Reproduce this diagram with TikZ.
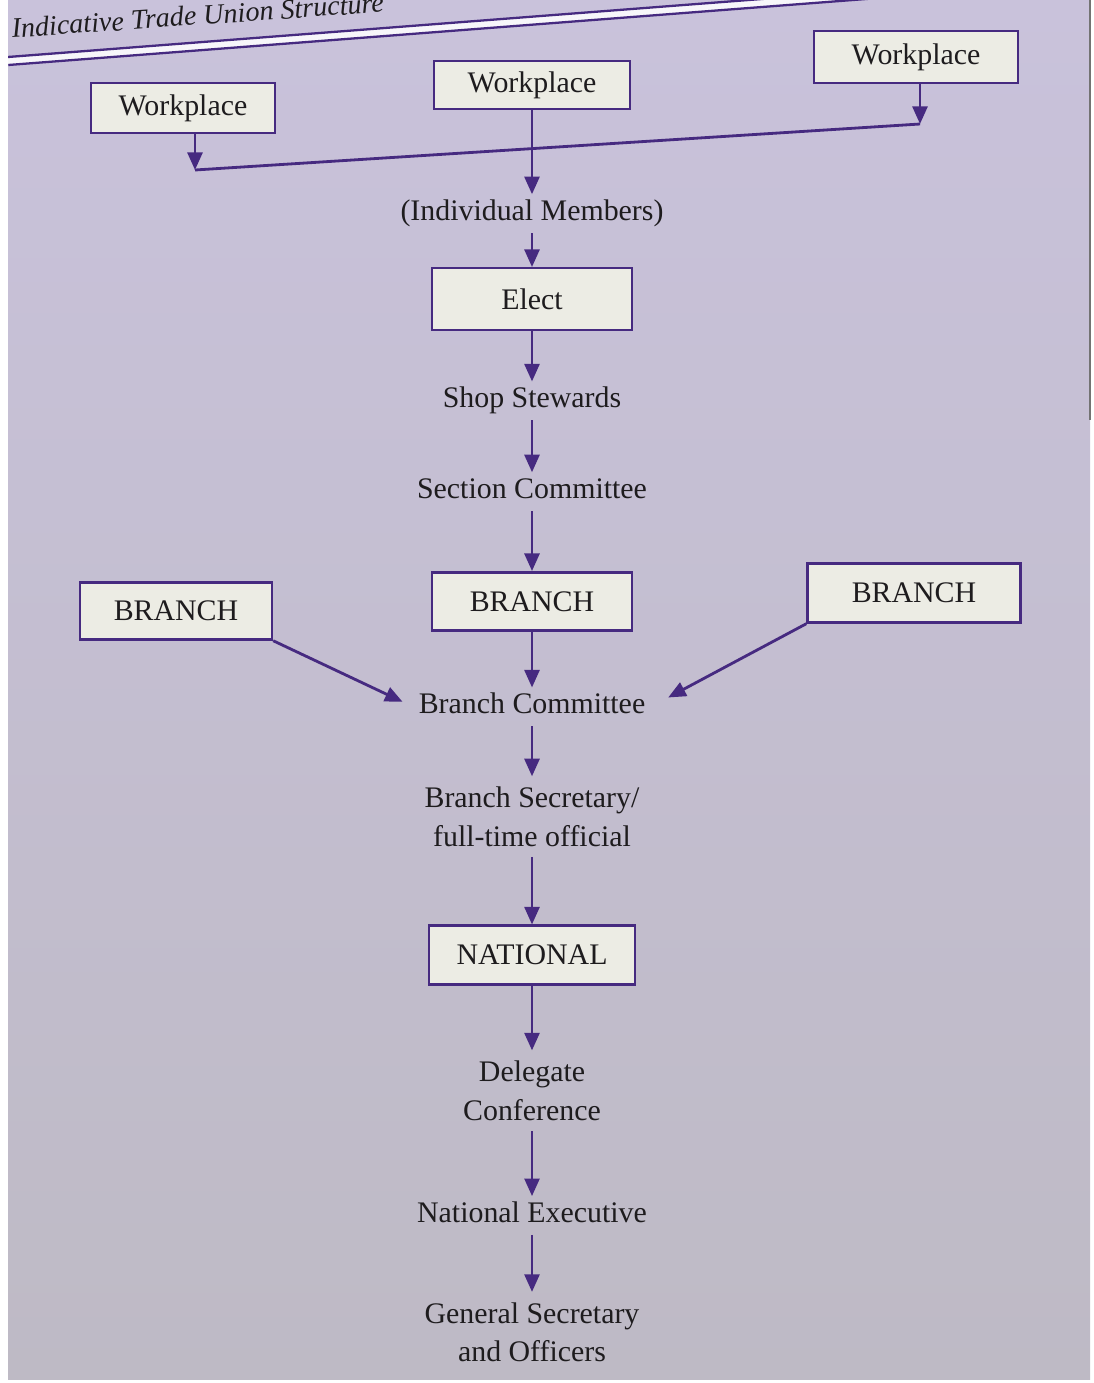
\documentclass[tikz,border=0pt]{standalone}
\usepackage{fontspec}
\setmainfont{Liberation Serif}
\usetikzlibrary{arrows.meta, positioning}
\definecolor{unionpurple}{RGB}{70,42,128}
\definecolor{boxfill}{RGB}{236,236,228}
\definecolor{pagetop}{RGB}{201,194,219}
\definecolor{pagebottom}{RGB}{190,186,197}
\definecolor{inktext}{RGB}{30,28,30}
\tikzstyle{unit} = [
    rectangle,
    text centered,
    draw=unionpurple,
    fill=boxfill,
    line width=1.4pt,
    text=inktext,
    font=\fontsize{17}{22}\selectfont
]
\tikzstyle{level} = [
    text centered,
    inner sep=0.1cm,
    text height=12pt,
    text depth=4pt,
    text=inktext,
    font=\fontsize{17}{22}\selectfont
]
\tikzstyle{twolevel} = [
    align=center,
    inner sep=0.1cm,
    minimum height=1.6cm,
    text=inktext,
    font=\fontsize{17}{22}\selectfont
]
\tikzstyle{arrow} = [
    line width=1.6pt,
    draw=unionpurple,
    -{Triangle[length=10pt,width=8.5pt]}
]
\tikzstyle{link} = [
    line width=1.6pt,
    draw=unionpurple
]

\begin{document}
\begin{tikzpicture}[x=0.02cm, y=-0.02cm]

% page
\useasboundingbox (0,0) rectangle (1094,1383);
\fill[white] (0,0) rectangle (1094,1383);
\shade[top color=pagetop, bottom color=pagebottom] (8,0) rectangle (1090,1379);
\draw[black!55, line width=1pt] (1090,0) -- (1090,420);

% heading and rule
\begin{scope}
\clip (8,0) rectangle (1090,1379);
\node (title) [anchor=base west, rotate=4, inner sep=0, text=inktext,
    font=\itshape\fontsize{16}{18}\selectfont] at (12,38) {Indicative Trade Union Structure};
\begin{scope}[rotate around={4.4:(8,61)}]
\fill[white!85!pagetop] (8,57) rectangle (900,65);
\draw[unionpurple, line width=1.3pt] (8,57) -- (900,57);
\draw[unionpurple, line width=1.3pt] (8,65) -- (900,65);
\end{scope}
\end{scope}

\node (wleft)  [unit, minimum width=3.68cm, minimum height=1cm]    at (183,108) {Workplace};
\node (wmid)   [unit, minimum width=3.92cm, minimum height=0.96cm] at (532,85)  {Workplace};
\node (wright) [unit, minimum width=4.08cm, minimum height=1.04cm] at (916,57)  {Workplace};

\node (members)  [level, below=1.68cm of wmid] {(Individual Members)};
\node (elect)    [unit, minimum width=4cm, minimum height=1.24cm, below=0.68cm of members] {Elect};
\node (stewards) [level, below=1cm of elect] {Shop Stewards};
\node (section)  [level, below=1.04cm of stewards] {Section Committee};
\node (bmid)     [unit, minimum width=4cm, minimum height=1.16cm, below=1.2cm of section] {BRANCH};
\node (bcomm)    [level, below=1.12cm of bmid] {Branch Committee};
\node (bsec)     [twolevel, below=1cm of bcomm] {Branch Secretary/\\full-time official};
\node (national) [unit, minimum width=4.12cm, minimum height=1.18cm, below=1.35cm of bsec] {NATIONAL};
\node (delegate) [twolevel, below=1.29cm of national] {Delegate\\Conference};
\node (nexec)    [level, below=1.3cm of delegate] {National Executive};
\node (gensec)   [twolevel, below=1.14cm of nexec] {General Secretary\\and Officers};

\node (bleft)  [unit, minimum width=3.84cm, minimum height=1.14cm] at (176,611) {BRANCH};
\node (bright) [unit, minimum width=4.26cm, minimum height=1.18cm] at (914,593) {BRANCH};

\coordinate (jl) at (195,170);
\coordinate (jr) at (920,124);

\draw[link]  (jl) -- (jr);
\draw[arrow] (jl |- wleft.south) -- (jl);
\draw[arrow] (jr |- wright.south) -- (jr);
\draw[arrow] (wmid) -- (members);
\draw[arrow] (members) -- (elect);
\draw[arrow] (elect) -- (stewards);
\draw[arrow] (stewards) -- (section);
\draw[arrow] (section) -- (bmid);
\draw[arrow] (bmid) -- (bcomm);
\draw[arrow, shorten >=0.24cm] (bleft.south east) -- (bcomm.west);
\draw[arrow, shorten >=0.4cm] (bright.south west) -- (bcomm.east);
\draw[arrow] (bcomm) -- (bsec);
\draw[arrow] (bsec) -- (national);
\draw[arrow] (national) -- (delegate);
\draw[arrow] (delegate) -- (nexec);
\draw[arrow] (nexec) -- (gensec);

\end{tikzpicture}
\end{document}
